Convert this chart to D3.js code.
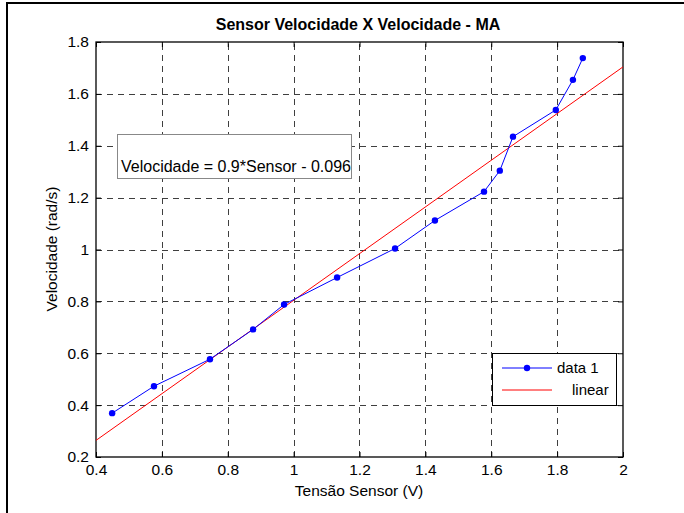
<!DOCTYPE html>
<html>
<head>
<meta charset="utf-8">
<script src="https://cdn.jsdelivr.net/npm/d3@7"></script>
<style>
  html, body { margin: 0; padding: 0; background: #fff; }
  svg { display: block; font-family: "Liberation Sans", Arial, sans-serif; }
</style>
</head>
<body>
<svg id="chart" width="684" height="513"></svg>
<script>
// Measured sensor readings (V) and corresponding velocity (rad/s)
const sensorV = [0.449, 0.576, 0.746, 0.877, 0.971, 1.132, 1.308, 1.429, 1.578, 1.626, 1.666, 1.796, 1.848, 1.878];
const velocity = [0.369, 0.473, 0.577, 0.692, 0.788, 0.892, 1.004, 1.112, 1.223, 1.304, 1.435, 1.538, 1.654, 1.738];
// Linear fit: Velocidade = 0.9*Sensor - 0.096
const fitSlope = 0.9;
const fitIntercept = -0.096;
const fitX = [0.4, 2.0];
const xTicks = [0.4, 0.6, 0.8, 1, 1.2, 1.4, 1.6, 1.8, 2];
const yTicks = [0.2, 0.4, 0.6, 0.8, 1, 1.2, 1.4, 1.6, 1.8];

const svg = d3.select("#chart");
const pLeft = 96, pRight = 623, pTop = 42, pBottom = 457;
const FS = 15.5;

// Figure frame
svg.append("rect").attr("x", 7).attr("y", 3).attr("width", 690).attr("height", 520)
  .attr("fill", "none").attr("stroke", "#000").attr("stroke-width", 2);

const x = d3.scaleLinear().domain([0.4, 2]).range([pLeft, pRight]);
const y = d3.scaleLinear().domain([0.2, 1.8]).range([pBottom, pTop]);

// Dashed grid
const grid = svg.append("g").attr("stroke", "#000").attr("stroke-width", 1)
  .attr("stroke-dasharray", "6,5").attr("opacity", 0.75);
grid.selectAll("line.gx").data(xTicks.slice(1, -1)).join("line")
  .attr("x1", d => Math.round(x(d)) + 0.5).attr("x2", d => Math.round(x(d)) + 0.5)
  .attr("y1", pBottom).attr("y2", pTop);
grid.selectAll("line.gy").data(yTicks.slice(1, -1)).join("line")
  .attr("y1", d => Math.round(y(d)) + 0.5).attr("y2", d => Math.round(y(d)) + 0.5)
  .attr("x1", pLeft).attr("x2", pRight);

// Axes with inward ticks on all four sides
const tickFmt = d => d3.format("")(d);
const axB = svg.append("g").attr("transform", `translate(0,${pBottom})`)
  .call(d3.axisBottom(x).tickValues(xTicks).tickFormat(tickFmt).tickSizeInner(-5).tickSizeOuter(0).tickPadding(7));
const axL = svg.append("g").attr("transform", `translate(${pLeft},0)`)
  .call(d3.axisLeft(y).tickValues(yTicks).tickFormat(tickFmt).tickSizeInner(-5).tickSizeOuter(0).tickPadding(7));
const axT = svg.append("g").attr("transform", `translate(0,${pTop})`)
  .call(d3.axisTop(x).tickValues(xTicks).tickFormat("").tickSizeInner(-5).tickSizeOuter(0));
const axR = svg.append("g").attr("transform", `translate(${pRight},0)`)
  .call(d3.axisRight(y).tickValues(yTicks).tickFormat("").tickSizeInner(-5).tickSizeOuter(0));
[axB, axL, axT, axR].forEach(a => {
  a.select(".domain").remove();
  a.selectAll("text").attr("font-size", FS).attr("fill", "#000")
    .attr("font-family", "Liberation Sans, Arial, sans-serif");
  a.selectAll("line").attr("stroke", "#000");
});

// Plot box
svg.append("rect").attr("x", pLeft).attr("y", pTop).attr("width", pRight - pLeft).attr("height", pBottom - pTop)
  .attr("fill", "none").attr("stroke", "#000").attr("stroke-width", 1.3);

// Fit line (red)
svg.append("line")
  .attr("x1", x(fitX[0])).attr("y1", y(fitSlope * fitX[0] + fitIntercept))
  .attr("x2", x(fitX[1])).attr("y2", y(fitSlope * fitX[1] + fitIntercept))
  .attr("stroke", "#ff0000").attr("stroke-width", 1);

// Measured data (blue line with dots)
const pts = sensorV.map((v, i) => [v, velocity[i]]);
svg.append("path").datum(pts)
  .attr("d", d3.line().x(d => x(d[0])).y(d => y(d[1])))
  .attr("fill", "none").attr("stroke", "#0000ff").attr("stroke-width", 1);
svg.selectAll("circle.pt").data(pts).join("circle")
  .attr("cx", d => x(d[0])).attr("cy", d => y(d[1])).attr("r", 3.2).attr("fill", "#0000ff");

// Equation annotation
svg.append("rect").attr("x", 117.5).attr("y", 134.5).attr("width", 234).attr("height", 44)
  .attr("fill", "#fff").attr("stroke", "#888").attr("stroke-width", 1);
svg.append("text").attr("x", 121).attr("y", 172).attr("font-size", 16).attr("fill", "#000")
  .text("Velocidade = " + fitSlope + "*Sensor - " + Math.abs(fitIntercept));

// Legend
const lg = svg.append("g");
lg.append("rect").attr("x", 492.5).attr("y", 353.5).attr("width", 124).attr("height", 52)
  .attr("fill", "#fff").attr("stroke", "#000").attr("stroke-width", 1);
lg.append("line").attr("x1", 502).attr("x2", 552).attr("y1", 368).attr("y2", 368).attr("stroke", "#0000ff");
lg.append("circle").attr("cx", 527).attr("cy", 368).attr("r", 3.2).attr("fill", "#0000ff");
lg.append("text").attr("x", 557).attr("y", 373).attr("font-size", 15).text("data 1");
lg.append("line").attr("x1", 502).attr("x2", 552).attr("y1", 390).attr("y2", 390).attr("stroke", "#ff0000");
lg.append("text").attr("x", 572).attr("y", 395).attr("font-size", 15).text("linear");

// Titles
svg.append("text").attr("x", 358).attr("y", 30).attr("text-anchor", "middle")
  .attr("font-size", 16).attr("font-weight", "bold").text("Sensor Velocidade X Velocidade - MA");
svg.append("text").attr("x", 359).attr("y", 496).attr("text-anchor", "middle")
  .attr("font-size", FS).text("Tensão Sensor (V)");
svg.append("text").attr("transform", "translate(57,249) rotate(-90)").attr("text-anchor", "middle")
  .attr("font-size", FS).text("Velocidade (rad/s)");
</script>
</body>
</html>
